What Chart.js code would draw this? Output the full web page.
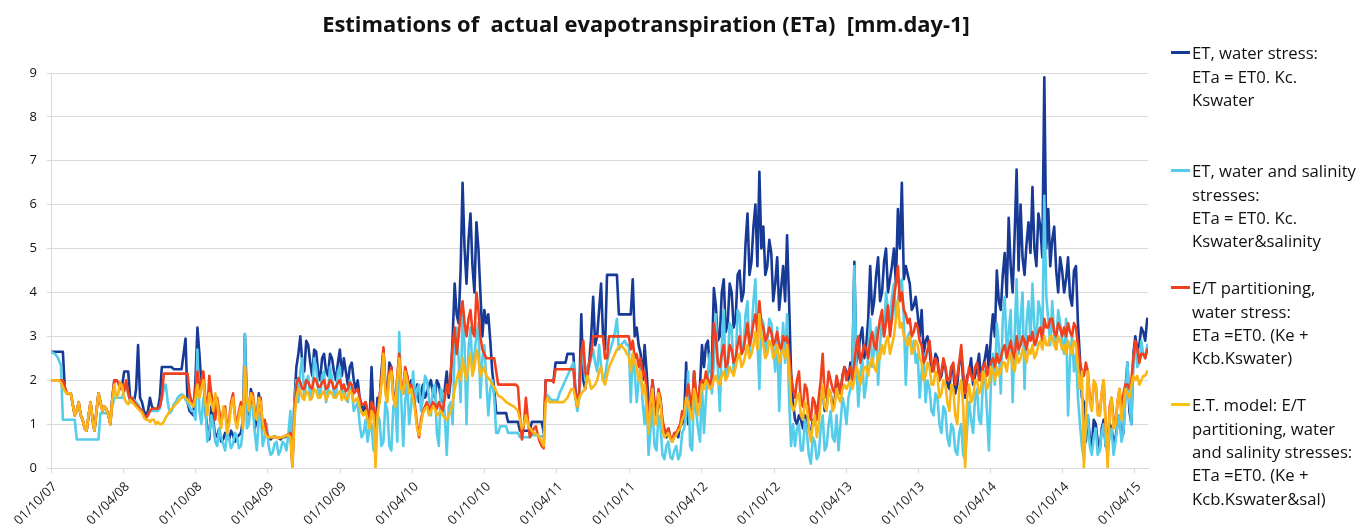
<!DOCTYPE html>
<html>
<head>
<meta charset="utf-8">
<script src="https://cdn.jsdelivr.net/npm/chart.js@4.4.1/dist/chart.umd.min.js"></script>
<style>
  html, body { margin: 0; padding: 0; background: #ffffff; }
  #wrap { position: relative; width: 1370px; height: 524px; overflow: hidden; background: #fff; }
  #c { position: absolute; left: 0; top: 0; }
  #title { position: absolute; left: 0; width: 1292px; text-align: center; white-space: pre; font-weight: bold; color: #111; }
  .grp { position: absolute; left: 1192px; color: #111; white-space: pre; }
  .mk { position: absolute; left: -21px; width: 19px; height: 2.5px; }
</style>
</head>
<body>
<div id="wrap">
  <canvas id="c" width="1370" height="524"></canvas>
  <div id="title"></div>
  <div id="legend"></div>
</div>
<script>
// ---------------- DATA ----------------
const titleText = "Estimations of  actual evapotranspiration (ETa)  [mm.day-1]";
const startDate = "2007-10-01";   // first sample
const stepDays = 10;              // main samples every 10 days, mid samples 5 days later
const tickLabels = ["01/10/07","01/04/08","01/10/08","01/04/09","01/10/09","01/04/10","01/10/10","01/04/11","01/10/11","01/04/12","01/10/12","01/04/13","01/10/13","01/04/14","01/10/14","01/04/15"];
const yTicks = [0,1,2,3,4,5,6,7,8,9];

const seriesNames = [
  ["ET, water stress:", "ETa = ET0. Kc.", "Kswater"],
  ["ET, water and salinity", "stresses:", "ETa = ET0. Kc.", "Kswater&salinity"],
  ["E/T partitioning,", "water stress:", "ETa =ET0. (Ke +", "Kcb.Kswater)"],
  ["E.T. model: E/T", "partitioning, water", "and salinity stresses:", "ETa =ET0. (Ke +", "Kcb.Kswater&sal)"]
];
const seriesColors = ["#173a96", "#55cdea", "#f2401d", "#fab614"];
const markerColors = ["#173a96", "#55cdea", "#f2401d", "#f7c40e"];

// ET, water stress
const etWater = [
  2.65,2.65,2.65,2.65,1.7,1.7,1.2,1.5,1.1,0.85,1.5,0.85,1.7,1.3,1.35,1.0,2.0,1.95,1.9,
  2.2,1.6,1.5,2.8,1.5,1.2,1.6,1.35,1.35,2.3,2.3,2.3,2.25,2.25,2.25,2.95,1.3,1.2,
  3.2,1.9,1.3,0.65,1.1,0.75,0.6,0.8,0.65,0.75,0.7,0.8,3.05,1.2,1.6,1.1,1.4,1.0,
  0.7,0.7,0.7,0.65,0.7,0.75,0.1,2.3,3.0,2.2,2.8,2.1,2.65,2.0,2.6,2.1,2.5,2.0,2.7,
  2.5,1.9,2.4,1.8,1.6,1.3,1.2,2.3,0.9,1.5,2.7,1.6,2.3,1.5,2.5,1.7,2.1,2.0,
  1.6,1.5,1.9,1.7,2.0,1.6,1.9,1.5,2.2,2.0,4.2,3.3,6.5,4.2,5.8,4.0,5.0,3.0,
  3.3,2.9,1.8,1.25,1.25,1.25,1.05,1.05,1.05,0.85,0.85,0.85,1.05,1.05,1.05,2.0,2.0,2.0,
  2.4,2.4,2.4,2.6,2.6,1.4,3.5,1.8,2.4,3.9,3.0,4.2,2.7,4.4,4.4,4.4,3.5,3.5,3.5,
  4.3,3.2,2.6,2.8,1.5,2.0,1.2,1.6,0.8,0.9,0.6,0.8,1.0,1.2,1.0,1.3,1.6,1.9,
  2.3,2.9,2.4,3.7,3.0,4.3,3.3,4.0,3.4,4.5,4.0,5.8,4.7,6.0,6.75,5.5,4.6,4.9,
  4.2,3.6,4.6,5.3,2.2,1.1,1.2,0.9,1.1,0.8,1.0,1.3,1.8,1.4,1.7,1.5,1.9,2.1,
  2.2,2.4,4.7,2.6,3.2,2.8,4.6,3.8,4.8,4.0,5.0,4.3,5.0,5.9,6.5,4.6,4.2,3.7,3.5,
  3.6,2.9,2.7,2.3,2.5,2.1,2.3,1.8,2.2,1.9,2.6,1.6,2.2,1.9,2.3,2.0,2.5,2.2,
  3.5,4.5,3.6,4.9,5.7,4.0,6.8,6.0,4.4,5.6,6.4,4.6,5.5,8.9,5.9,5.2,4.5,4.8,
  4.0,4.8,3.7,4.6,2.5,1.5,1.2,0.5,1.0,0.4,1.1,0.6,0.9,0.7,1.2,0.8,2.4,1.0,
  3.0,2.8,3.1,3.4
];
const etWaterMid = [
  2.65,2.65,2.65,1.8,1.7,1.45,1.3,1.2,0.9,1.2,1.1,1.3,1.5,1.4,1.2,1.6,2.0,1.8,2.2,
  2.2,1.5,1.8,1.6,1.3,1.3,1.4,1.35,1.6,2.3,2.3,2.3,2.25,2.25,2.6,1.5,1.25,2.0,
  2.6,2.1,0.9,1.4,0.7,0.9,0.65,0.7,0.85,0.6,0.75,1.1,1.5,1.8,0.9,1.7,0.9,0.75,
  0.65,0.72,0.68,0.7,0.72,0.9,1.5,2.6,2.4,2.9,2.4,2.7,2.2,2.5,2.2,2.6,2.2,2.4,2.1,
  2.2,2.3,2.0,2.0,1.4,1.5,1.0,1.3,1.6,2.2,1.9,2.4,1.7,2.0,1.8,2.2,1.8,1.9,
  1.9,1.7,1.6,1.9,1.7,2.0,1.6,1.8,1.6,3.0,3.5,4.5,5.0,5.2,4.6,5.6,4.0,3.6,
  3.5,2.2,1.25,1.25,1.25,1.05,1.05,1.05,0.85,0.85,0.85,1.05,1.05,1.05,0.8,2.0,2.0,2.4,
  2.4,2.4,2.6,2.6,1.8,1.7,2.0,2.2,3.0,2.8,3.6,3.0,4.4,4.4,4.4,3.5,3.5,3.5,3.5,
  3.0,2.8,2.0,2.2,1.1,1.5,1.4,1.0,0.7,0.7,0.75,0.7,1.0,2.4,1.6,2.2,1.5,2.8,
  2.8,2.2,4.1,2.9,4.0,3.1,4.2,3.2,4.4,3.8,5.1,4.4,5.5,4.6,5.0,4.4,5.2,3.8,
  4.8,4.1,3.8,3.8,1.5,1.0,1.1,1.2,0.9,1.1,1.4,1.6,1.3,1.8,1.4,2.0,1.7,2.3,
  2.0,2.3,2.4,3.0,2.5,3.4,3.5,4.4,3.8,4.7,4.0,4.6,4.2,5.0,4.3,4.4,3.6,3.9,3.0,
  2.6,3.0,2.2,2.6,2.0,2.4,1.9,2.3,1.7,2.4,2.0,2.1,2.5,2.1,2.6,2.3,2.8,3.0,
  3.0,3.8,4.4,3.9,4.6,5.3,4.5,4.8,5.1,4.9,5.0,5.8,4.8,5.0,4.6,5.5,4.0,4.5,
  4.3,3.9,4.5,3.3,1.6,0.6,0.7,1.1,0.6,0.9,0.5,1.0,0.6,1.0,0.7,1.8,1.3,2.6,
  2.7,3.2,2.9
];
// ET, water and salinity stresses
const etWaterSal = [
  2.65,2.6,2.45,1.1,1.1,1.1,1.1,0.65,0.65,0.65,0.65,0.65,0.65,1.25,1.25,1.25,1.6,1.6,1.6,
  1.95,1.5,1.55,1.45,1.3,1.15,1.3,1.3,1.3,1.6,1.9,1.25,1.45,1.6,1.68,1.55,1.4,1.3,
  2.7,1.0,1.4,0.8,1.0,0.5,0.7,0.4,0.65,0.55,0.7,0.5,3.05,1.0,1.4,0.4,1.3,0.7,
  0.5,0.35,0.6,0.4,0.55,0.8,0.1,2.0,2.2,1.6,2.1,1.7,2.3,1.6,2.2,1.7,2.05,1.6,2.3,
  1.9,1.5,1.8,1.4,1.0,0.8,0.6,1.0,0.5,1.1,0.6,1.3,0.4,1.5,3.1,0.5,2.0,1.4,
  1.5,1.9,1.6,2.0,1.2,1.9,0.5,1.7,0.3,1.5,2.8,2.5,3.5,1.0,3.2,2.6,3.3,2.5,
  2.0,1.8,1.6,0.8,0.95,0.95,0.8,0.8,0.8,0.7,0.7,0.7,0.75,0.75,0.72,1.7,1.6,1.55,
  1.55,1.8,2.0,2.2,2.4,1.3,2.4,2.0,2.3,2.7,2.2,2.3,2.1,2.6,2.9,3.4,2.8,2.9,2.8,
  2.6,1.5,2.3,1.0,0.3,1.4,0.4,1.0,0.2,0.6,0.2,0.5,0.3,0.9,2.2,0.4,1.3,0.6,
  0.8,2.2,1.7,3.5,1.3,3.6,2.3,3.2,2.3,3.5,2.7,3.8,3.0,4.3,1.8,3.3,2.9,3.3,
  2.2,1.3,3.3,3.5,0.5,0.5,1.0,0.4,0.8,0.1,0.6,0.3,1.2,0.5,1.3,0.6,0.4,1.6,
  1.0,1.8,4.6,1.4,2.5,1.9,3.4,2.7,1.9,3.4,4.0,3.3,4.2,3.8,4.3,1.9,3.1,2.9,2.6,
  2.2,1.5,1.8,1.2,1.6,0.8,1.3,0.5,0.9,0.3,1.0,0.2,1.5,0.8,1.8,1.0,2.2,0.4,
  2.6,3.3,1.7,3.9,3.1,1.5,4.3,3.4,1.8,3.8,4.2,2.8,3.6,6.2,3.4,3.8,2.7,3.3,
  2.6,1.2,3.0,2.6,1.0,0.2,1.2,0.3,0.9,0.4,1.0,0.4,0.9,0.6,1.2,0.8,2.4,1.0,
  2.8,2.4,2.6,2.8
];
const etWaterSalMid = [
  2.62,2.55,2.35,1.1,1.1,1.1,0.65,0.65,0.65,0.65,0.65,0.65,1.25,1.25,1.25,1.4,1.6,1.6,1.8,
  1.7,1.6,1.5,1.35,1.2,1.2,1.3,1.3,1.35,1.8,1.5,1.3,1.5,1.65,1.65,1.5,1.3,1.1,
  1.3,1.6,0.6,1.2,0.6,0.9,0.55,0.8,0.45,0.8,0.45,0.9,0.9,1.5,0.8,1.1,0.5,1.0,
  0.3,0.55,0.3,0.6,0.4,1.3,1.5,1.5,2.5,2.0,1.6,2.5,1.8,2.1,1.5,2.3,1.7,2.2,1.6,
  1.6,2.0,1.3,1.5,0.7,1.1,0.9,0.4,1.2,0.5,1.5,0.5,1.4,0.6,1.6,1.5,1.0,2.2,
  1.8,1.3,2.1,1.6,1.8,0.8,1.8,1.2,1.4,1.0,3.2,1.5,2.8,2.7,2.2,3.0,1.6,2.8,
  1.2,2.0,0.8,0.95,0.95,0.8,0.8,0.8,0.7,0.7,0.7,0.75,0.75,0.72,0.72,1.65,1.55,1.55,
  1.7,1.9,2.1,2.3,1.6,1.6,2.6,2.3,2.5,2.4,2.8,2.0,2.4,2.75,3.1,2.7,2.85,2.8,1.5,
  2.2,2.0,1.5,1.6,0.9,0.5,1.2,0.3,0.5,0.25,0.4,0.2,0.8,1.2,0.5,1.8,0.9,1.9,
  1.6,2.6,2.4,2.3,2.8,2.0,3.3,2.2,3.6,2.6,3.5,2.6,3.8,2.9,3.4,2.6,3.4,2.8,
  3.2,2.6,2.4,1.6,1.0,0.9,0.4,1.1,0.3,0.7,0.2,0.9,0.4,1.0,0.7,1.2,1.0,1.4,
  1.6,2.2,2.4,2.1,1.6,2.6,2.3,3.2,2.8,3.0,3.6,3.9,3.4,4.2,3.4,3.0,2.6,2.4,1.6,
  2.6,2.0,1.3,1.7,1.0,1.4,0.7,1.0,0.4,0.8,0.3,0.9,1.1,1.6,1.1,2.0,1.3,1.9,
  1.9,2.8,3.4,2.6,3.6,3.0,2.6,4.0,3.3,2.9,3.2,3.8,2.9,3.9,2.8,3.0,3.6,2.9,
  3.4,2.5,2.2,1.6,0.5,0.9,0.5,0.7,0.3,0.8,0.5,0.7,0.3,1.0,0.6,1.6,1.5,2.5,
  2.3,2.9,2.5
];
// E/T partitioning, water stress
const etPart = [
  2.0,2.0,2.0,2.0,1.7,1.7,1.2,1.5,1.1,0.85,1.5,0.85,1.7,1.3,1.35,1.0,2.0,1.95,1.9,
  2.0,1.55,1.5,1.4,1.3,1.15,1.3,1.35,1.35,1.6,2.15,2.15,2.15,2.15,2.15,2.15,1.7,1.5,
  2.2,2.0,1.6,2.1,1.4,1.6,1.0,1.4,1.1,1.7,1.0,1.5,2.3,1.4,1.7,1.2,1.6,1.1,
  0.7,0.7,0.7,0.7,0.72,0.75,0.05,1.9,1.95,1.8,1.95,1.8,2.0,1.85,2.0,1.85,1.95,1.85,2.0,
  1.9,1.8,1.9,1.75,1.6,1.45,1.3,1.5,1.0,1.6,2.75,1.7,2.3,1.5,2.6,1.8,2.1,1.9,
  1.4,0.7,1.3,1.5,1.4,1.45,1.5,1.3,1.9,2.2,3.2,3.0,3.8,3.0,3.6,3.0,3.6,2.7,
  2.5,2.5,2.5,1.9,1.9,1.9,1.9,1.9,1.85,0.65,1.6,0.7,0.9,0.75,0.5,2.0,2.0,1.95,
  2.25,2.25,2.25,2.25,2.25,1.4,2.6,2.2,2.4,3.0,3.0,3.0,2.5,3.0,3.0,3.0,3.0,3.0,3.0,
  2.9,2.6,2.5,2.2,1.0,2.0,1.3,1.6,0.9,0.9,0.65,0.8,1.0,1.3,1.9,1.4,1.7,1.9,
  1.9,2.0,2.1,3.0,2.3,2.8,2.4,2.7,2.5,3.0,2.7,3.3,3.0,3.5,3.8,3.2,3.0,3.1,
  2.9,2.8,3.0,3.0,2.1,1.6,2.2,1.4,1.8,1.1,1.5,1.6,2.6,1.7,2.0,1.7,1.9,2.1,
  2.0,2.3,2.4,3.0,2.6,2.7,2.9,2.8,3.1,3.6,3.3,3.0,3.9,4.6,4.0,3.5,3.4,3.1,3.2,
  2.8,2.5,2.9,2.2,2.4,2.2,2.3,2.0,2.4,2.1,2.8,1.7,2.3,2.0,2.4,2.1,2.4,2.2,
  2.5,2.6,2.5,2.8,2.7,2.6,3.0,2.8,2.9,3.0,3.1,2.9,3.2,3.4,3.2,3.4,3.0,3.2,
  3.2,3.3,3.0,3.2,2.4,2.1,2.2,1.4,1.9,1.2,2.0,0.2,1.6,1.0,1.8,1.7,1.9,2.0,
  2.9,2.4,2.6,2.7
];
const etPartMid = [
  2.0,2.0,2.0,1.85,1.7,1.45,1.3,1.2,0.9,1.2,1.1,1.3,1.5,1.4,1.2,1.6,2.0,1.8,1.75,
  1.7,1.6,1.45,1.35,1.2,1.2,1.35,1.35,1.4,2.15,2.15,2.15,2.15,2.15,2.15,2.15,1.5,1.8,
  1.8,2.2,1.3,1.7,1.1,1.3,1.3,0.9,1.5,1.2,1.3,1.0,1.6,1.5,1.3,1.5,0.9,0.8,
  0.7,0.7,0.68,0.7,0.75,0.8,1.2,2.05,1.8,2.0,1.85,2.05,1.85,1.95,1.8,2.0,1.8,1.95,1.8,
  1.75,1.95,1.7,1.8,1.45,1.5,1.1,1.4,1.3,2.0,1.8,2.2,1.6,2.1,1.9,2.3,1.8,1.7,
  1.0,1.1,1.4,1.3,1.5,1.35,1.4,1.6,1.7,2.8,2.6,3.5,3.3,3.4,3.1,4.0,3.0,2.6,
  2.5,2.5,2.2,1.9,1.9,1.9,1.9,1.9,1.2,1.0,1.1,0.8,0.95,0.6,0.45,2.0,2.0,2.25,
  2.25,2.25,2.25,2.25,1.7,1.8,2.9,2.0,2.6,3.0,3.0,3.0,2.5,3.0,3.0,3.0,3.0,3.0,2.7,
  2.5,2.3,2.1,1.8,1.6,1.2,1.8,1.1,0.8,0.7,0.8,0.9,1.3,1.6,1.6,2.2,1.5,2.0,
  2.2,1.9,3.3,2.4,2.6,2.3,2.8,2.4,2.8,2.6,3.0,2.8,3.3,3.1,3.3,2.9,3.2,2.8,
  3.1,2.7,2.9,2.6,1.8,2.0,1.5,1.9,1.3,1.6,1.1,2.0,1.6,2.2,1.8,2.1,1.7,2.3,
  2.2,2.0,2.8,2.4,2.8,2.5,3.1,2.7,3.4,3.0,3.7,3.4,4.2,3.8,3.6,3.3,3.0,3.3,2.9,
  2.4,2.7,2.4,2.5,2.0,2.5,2.0,2.3,1.9,2.4,2.2,2.0,2.1,2.3,2.0,2.3,2.1,2.4,
  2.3,2.4,2.7,2.5,2.9,2.5,2.7,3.0,2.7,2.9,2.8,3.1,2.9,3.2,3.4,3.1,3.3,3.0,
  3.0,3.1,3.3,2.8,2.2,2.4,1.6,1.9,1.3,1.7,1.0,1.4,1.1,1.5,1.3,1.9,1.8,2.5,
  2.7,2.6,2.5
];
// E.T. model: E/T partitioning, water and salinity stresses
const etModel = [
  2.0,2.0,2.0,1.85,1.7,1.7,1.2,1.5,1.1,0.85,1.5,0.85,1.7,1.3,1.35,1.0,1.9,1.7,1.85,
  1.5,1.55,1.45,1.35,1.25,1.1,1.05,1.1,1.05,1.0,1.15,1.3,1.4,1.5,1.6,1.6,1.5,1.4,
  1.9,1.8,1.5,1.7,1.3,1.5,0.9,1.3,1.0,1.6,0.9,1.4,2.3,1.3,1.6,1.1,1.5,0.8,
  0.7,0.7,0.7,0.7,0.72,0.75,0.0,1.6,1.75,1.55,1.7,1.6,1.75,1.6,1.75,1.65,1.7,1.6,1.75,
  1.7,1.6,1.7,1.55,1.4,1.2,1.1,1.3,0.0,1.5,2.6,1.5,2.2,1.4,2.5,1.7,2.0,1.8,
  1.3,0.75,1.25,1.4,1.3,1.35,1.25,1.2,1.1,1.3,1.8,2.2,2.5,2.0,2.6,2.3,2.5,2.2,
  2.1,2.0,1.85,1.65,1.6,1.5,1.45,1.4,1.3,0.9,1.2,0.9,0.8,0.75,0.6,1.5,1.5,1.5,
  1.5,1.5,1.55,1.7,1.8,1.4,1.7,1.8,2.0,1.85,2.0,2.3,1.9,2.3,2.5,2.7,2.8,2.7,2.55,
  2.6,2.3,2.2,1.9,0.8,1.8,1.0,1.5,0.7,0.8,0.6,0.75,0.9,1.2,1.5,1.1,1.6,1.5,
  1.8,1.9,1.85,2.1,1.9,2.2,2.1,2.2,2.3,2.6,2.4,2.8,2.6,3.1,3.5,2.8,2.6,2.8,
  2.6,2.4,2.7,2.8,1.5,1.4,1.7,1.1,1.4,0.6,1.2,1.0,1.9,1.3,1.7,1.4,1.6,1.8,
  1.8,2.0,2.0,2.2,2.1,2.3,2.4,2.3,2.6,2.8,2.9,2.6,3.0,3.8,3.3,2.9,3.0,2.7,2.8,
  2.4,2.1,2.3,1.9,2.1,1.7,1.9,1.3,1.8,1.0,2.0,0.0,1.9,1.6,2.0,1.8,2.1,1.9,
  2.2,2.3,2.2,2.4,2.5,2.3,2.6,2.5,2.6,2.7,2.8,2.6,2.9,3.0,2.8,3.0,2.7,2.9,
  2.8,2.9,2.6,2.8,1.8,0.0,2.2,1.3,1.9,1.2,2.0,0.0,1.6,1.0,1.8,1.4,1.7,1.9,
  2.0,1.9,2.1,2.2
];
const etModelMid = [
  2.0,2.0,1.95,1.75,1.7,1.45,1.3,1.2,0.9,1.2,1.1,1.3,1.5,1.4,1.2,1.55,1.6,1.95,1.6,
  1.45,1.5,1.4,1.3,1.15,1.1,1.1,1.0,1.0,1.05,1.22,1.35,1.45,1.55,1.65,1.55,1.45,1.6,
  1.6,2.0,1.2,1.5,1.7,1.1,1.4,0.8,1.4,1.1,1.2,0.9,1.6,1.7,1.2,1.6,1.0,0.72,
  0.7,0.72,0.68,0.7,0.75,0.7,1.1,1.8,1.6,1.75,1.55,1.8,1.6,1.7,1.55,1.75,1.6,1.7,1.55,
  1.55,1.75,1.5,1.6,1.25,1.3,0.9,1.2,1.2,1.9,1.7,2.1,1.6,2.0,1.8,2.2,1.7,1.6,
  0.9,1.0,1.35,1.2,1.4,1.2,1.3,1.15,1.2,1.5,2.0,2.0,2.2,2.4,2.1,2.7,2.1,2.3,
  2.05,1.9,1.75,1.62,1.55,1.48,1.42,1.35,1.1,1.0,1.0,0.85,0.78,0.68,0.5,1.6,1.5,1.5,
  1.5,1.5,1.6,1.8,1.6,1.6,1.75,2.1,1.8,1.9,2.2,2.0,2.1,2.4,2.6,2.75,2.75,2.6,2.2,
  2.4,2.0,1.7,1.4,1.5,1.0,1.7,0.9,0.75,0.65,0.7,0.85,1.1,1.6,1.3,1.8,1.2,1.9,
  2.0,1.8,2.0,1.95,2.1,2.0,2.3,2.1,2.5,2.3,2.6,2.5,2.8,2.7,3.0,2.5,2.9,2.5,
  2.8,2.6,2.5,2.3,1.3,1.6,1.2,1.5,0.9,1.0,0.7,1.5,1.4,1.8,1.3,1.8,1.5,1.9,
  1.9,1.8,2.3,1.9,2.3,2.1,2.5,2.2,2.5,2.6,3.0,2.8,3.4,3.2,3.0,2.8,2.6,2.9,2.5,
  2.0,2.4,1.9,2.2,1.6,2.0,1.5,1.9,1.2,1.8,1.4,1.6,1.5,2.0,1.7,2.2,1.8,2.3,
  2.0,2.1,2.4,2.2,2.6,2.2,2.4,2.7,2.4,2.6,2.5,2.8,2.7,2.8,3.0,2.8,3.0,2.7,
  2.6,2.7,2.9,2.3,2.2,1.2,1.5,2.0,1.2,1.7,1.0,1.3,0.9,1.5,1.1,1.8,1.6,2.1,
  2.1,2.0,2.1
];

// ---------------- BUILD ----------------
const FAMILY = "'Open Sans', 'Noto Sans', sans-serif";
const DAY = 86400000;
const t0 = Date.parse(startDate + "T00:00:00Z");
function labelToDay(lbl) {
  const [d, m, y] = lbl.split("/").map(Number);
  return Math.round((Date.UTC(2000 + y, m - 1, d) - t0) / DAY);
}
const tickDays = tickLabels.map(labelToDay);
const labelByDay = {};
tickLabels.forEach((l, i) => { labelByDay[tickDays[i]] = l; });

function toPoints(main, mid) {
  const pts = [];
  main.forEach((v, i) => {
    pts.push({ x: i * stepDays, y: v });
    if (i < mid.length) pts.push({ x: i * stepDays + stepDays / 2, y: mid[i] });
  });
  return pts;
}
const allSeries = [[etWater, etWaterMid], [etWaterSal, etWaterSalMid], [etPart, etPartMid], [etModel, etModelMid]];
const xMax = (etWater.length - 1) * stepDays;

function fitSize(text, weight, target) {
  const c = document.createElement("canvas").getContext("2d");
  c.font = weight + " 100px " + FAMILY;
  return 100 * target / c.measureText(text).width;
}

// title
const titleEl = document.getElementById("title");
const tSize = fitSize(titleText, "bold", 648);
titleEl.textContent = titleText;
titleEl.style.fontFamily = FAMILY;
titleEl.style.fontSize = tSize.toFixed(2) + "px";
titleEl.style.lineHeight = "30px";
titleEl.style.top = "9px";

// legend
const legSize = fitSize("ET, water and salinity", "normal", 164);
const LH = 23.3;
const groupCenters = [53, 171, 288, 405];
const legendEl = document.getElementById("legend");
seriesNames.forEach((lines, k) => {
  const g = document.createElement("div");
  g.className = "grp";
  g.style.top = (groupCenters[k] - LH / 2) + "px";
  g.style.fontFamily = FAMILY;
  g.style.fontSize = legSize.toFixed(2) + "px";
  g.style.lineHeight = LH + "px";
  lines.forEach(t => { const d = document.createElement("div"); d.textContent = t; g.appendChild(d); });
  const mk = document.createElement("div");
  mk.className = "mk";
  mk.style.background = markerColors[k];
  mk.style.top = (LH / 2 - 1.5) + "px";
  g.appendChild(mk);
  legendEl.appendChild(g);
});

const datasets = allSeries.map((pair, k) => ({
  label: seriesNames[k].join(" "),
  data: toPoints(pair[0], pair[1]),
  borderColor: seriesColors[k],
  backgroundColor: seriesColors[k],
  borderWidth: 2.6,
  pointRadius: 0,
  tension: 0,
  fill: false,
  order: 4 - k
}));

new Chart(document.getElementById("c").getContext("2d"), {
  type: "line",
  data: { datasets },
  options: {
    responsive: false,
    animation: false,
    devicePixelRatio: 1,
    layout: { autoPadding: false, padding: { left: 0, right: 222, top: 73, bottom: 0 } },
    plugins: { legend: { display: false }, title: { display: false }, tooltip: { enabled: false } },
    elements: { line: { borderJoinStyle: "round", borderCapStyle: "round" } },
    scales: {
      x: {
        type: "linear",
        min: 0,
        max: xMax + 2,
        afterBuildTicks: s => { s.ticks = tickDays.map(v => ({ value: v })); },
        afterFit: s => { s.height = 56; },
        grid: { drawOnChartArea: false, drawTicks: true, tickLength: 5, color: "#d9d9d9" },
        border: { display: true, color: "#d9d9d9" },
        ticks: {
          autoSkip: false, minRotation: 45, maxRotation: 45, padding: 6, labelOffset: 4,
          color: "#222", font: { family: FAMILY, size: 13 },
          callback: v => labelByDay[v] || ""
        }
      },
      y: {
        min: 0, max: 9,
        afterBuildTicks: s => { s.ticks = yTicks.map(v => ({ value: v })); },
        afterFit: s => { s.width = 51; },
        grid: { color: "#d9d9d9", tickLength: 4 },
        border: { display: true, color: "#d9d9d9" },
        ticks: { padding: 10, color: "#111", font: { family: FAMILY, size: 13 } }
      }
    }
  }
});
</script>
</body>
</html>
